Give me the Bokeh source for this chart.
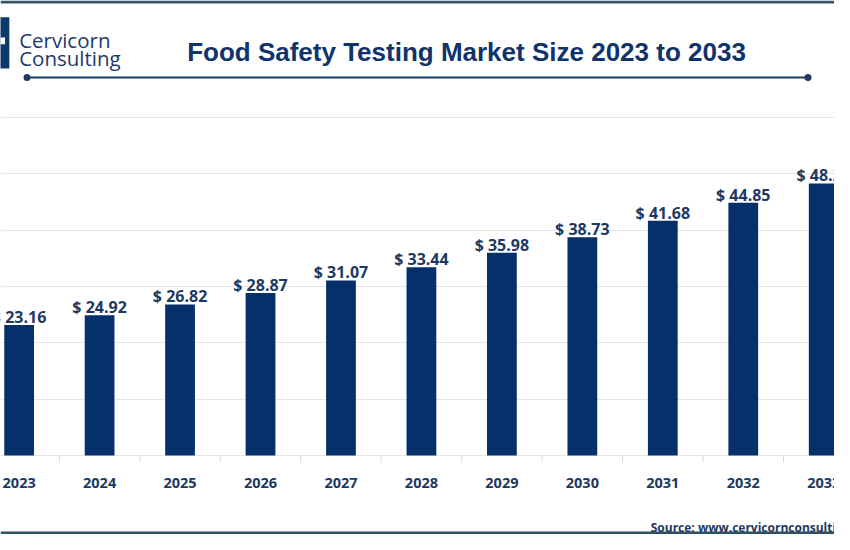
from bokeh.plotting import figure
from bokeh.models import Range1d, FixedTicker, ColumnDataSource, Span
from bokeh.core.properties import value
from bokeh.embed import file_html
from bokeh.resources import INLINE

# ---- data ----
years = ["2023", "2024", "2025", "2026", "2027", "2028", "2029", "2030", "2031", "2032", "2033"]
market_size = [23.16, 24.92, 26.82, 28.87, 31.07, 33.44, 35.98, 38.73, 41.68, 44.85, 48.29]
grid_ticks = [0, 10, 20, 30, 40, 50, 60]

title_text = "Food Safety Testing Market Size 2023 to 2033"
brand_lines = ["Cervicorn", "Consulting"]
source_text = "Source: www.cervicornconsulting.com"

NAVY = "#05306a"
TEXT = "#1c3961"

xs = list(range(len(years)))
src = ColumnDataSource(dict(
    x=xs,
    year=years,
    value=market_size,
    label=[f"$ {v:.2f}" for v in market_size],
    ylab=[-4.95] * len(years),
))

p = figure(width=834, height=534, output_backend="svg", toolbar_location=None,
           x_range=Range1d(-0.2317, 10.134), y_range=Range1d(-14.02, 80.77),
           min_border=0)
p.xaxis.visible = False
p.yaxis.visible = False
p.xgrid.visible = False
p.ygrid.ticker = FixedTicker(ticks=grid_ticks)
p.ygrid.grid_line_color = "#e6e6e6"
p.ygrid.grid_line_width = 1
p.outline_line_color = None
p.background_fill_color = "white"
p.border_fill_color = "white"

# bars
p.vbar(x="x", top="value", width=0.37, source=src, fill_color=NAVY, line_color=None)

# value labels
p.text(x="x", y="value", text="label", source=src, text_align="center",
       text_baseline="alphabetic", y_offset=-8,
       text_font=value("Open Sans"), text_font_style="bold",
       text_font_size="16px", text_color=TEXT)

# category labels
p.text(x="x", y="ylab", text="year", source=src, text_align="center",
       text_baseline="alphabetic",
       text_font=value("Open Sans"), text_font_style="bold",
       text_font_size="14.5px", text_color=TEXT)

# separators between categories
sep_x = [i + 0.5 for i in xs[:-1]]
p.segment(x0=sep_x, y0=[0] * len(sep_x), x1=sep_x, y1=[-1.25] * len(sep_x),
          line_color="#d9d9d9", line_width=1)

# header: logo (cut at the left edge) and brand
p.quad(left=[-0.30], right=[-0.122], top=[77.8], bottom=[68.7],
       fill_color="#0b3a6e", line_color=None)
p.quad(left=[-0.30], right=[-0.175], top=[74.2], bottom=[73.0],
       fill_color="white", line_color=None)
p.text(x=[0.0], y=[73.7], text=[brand_lines[0]], text_align="left",
       text_baseline="alphabetic", text_font=value("Open Sans"),
       text_font_size="20.5px", text_color="#1d3a6a")
p.text(x=[0.0], y=[70.6], text=[brand_lines[1]], text_align="left",
       text_baseline="alphabetic", text_font=value("Open Sans"),
       text_font_size="20.5px", text_color="#1d3a6a")

# title
p.text(x=[5.56], y=[71.7], text=[title_text], text_align="center",
       text_baseline="alphabetic", text_font=value("Liberation Sans"),
       text_font_style="bold", text_font_size="26px", text_color="#10336b")

# header rule with dots
p.segment(x0=[0.098], y0=[67.1], x1=[9.805], y1=[67.1], line_color="#1f3a5f", line_width=2)
p.scatter(x=[0.098, 9.805], y=[67.1, 67.1], size=7, fill_color="#1f3a5f", line_color=None)

# source
p.text(x=[7.85], y=[-12.8], text=[source_text], text_align="left",
       text_baseline="alphabetic", text_font=value("Open Sans"),
       text_font_style="bold", text_font_size="12px", text_color=TEXT)

# borders
p.add_layout(Span(location=80.5, dimension="width", line_color="#3a5467", line_width=3))
p.add_layout(Span(location=-13.75, dimension="width", line_color="#2f5060", line_width=3))

open("out.html", "w").write(file_html(p, INLINE))
